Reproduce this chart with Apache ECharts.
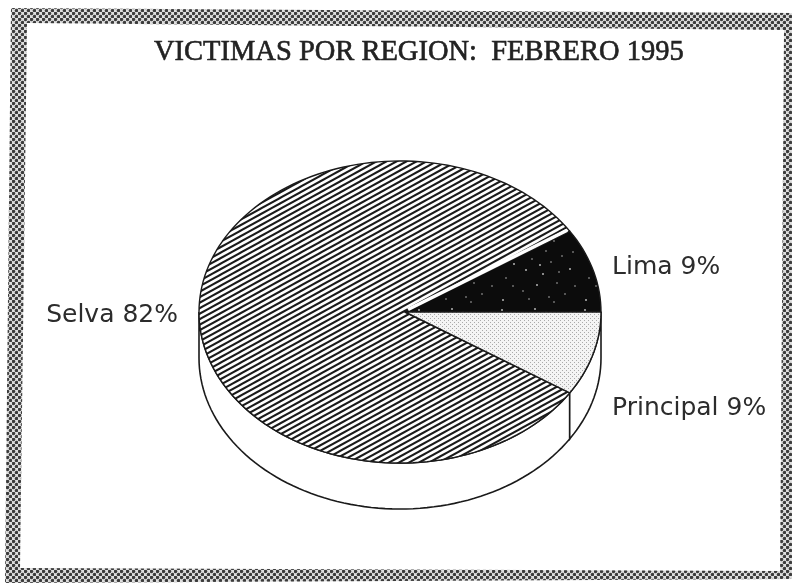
<!DOCTYPE html>
<html>
<head>
<meta charset="utf-8">
<style>
html, body { margin: 0; padding: 0; background: #fff; }
#chart { width: 792px; height: 583px; }
</style>
</head>
<body>
<div id="chart"></div>
<script src="https://cdn.jsdelivr.net/npm/echarts@6/dist/echarts.min.js"></script>
<script>
var titleText = 'VICTIMAS POR REGION:  FEBRERO 1995'
var categories = ['Lima', 'Selva', 'Principal']
var shares = [9, 82, 9]

var depth = 46 // wall height in px
var apexX = 0.025 // the slices meet a bit right of the ellipse centre

function tile(w, h, draw) {
    var c = document.createElement('canvas')
    c.width = w
    c.height = h
    draw(c.getContext('2d'))
    return { image: c, repeat: 'repeat' }
}

// frame: soft dithered checker, scan blurred it
var checker = tile(6, 6, function(ctx) {
    ctx.fillStyle = '#dedede'
    ctx.fillRect(0, 0, 6, 6)
    ctx.fillStyle = '#3c3c3c'
    var dots = [[1.5, 1.5], [4.5, 4.5]]
    dots.forEach(function(d) {
        ctx.beginPath()
        ctx.arc(d[0], d[1], 1.75, 0, Math.PI * 2)
        ctx.fill()
    })
})

// Selva: diagonal hatching
var hatch = tile(20, 11, function(ctx) {
    ctx.fillStyle = '#fff'
    ctx.fillRect(0, 0, 20, 11)
    ctx.strokeStyle = '#1a1a1a'
    ctx.lineWidth = 2
    for (var k = -3; k < 5; k++) {
        // run past the tile edges so no seams show
        ctx.beginPath()
        ctx.moveTo(-20, 5.5 * k + 16.5)
        ctx.lineTo(40, 5.5 * k - 16.5)
        ctx.stroke()
    }
})

// Lima: black with a few irregular specks
var speckled = tile(83, 61, function(ctx) {
    ctx.fillStyle = '#0c0c0c'
    ctx.fillRect(0, 0, 83, 61)
    var specks = [[3, 4], [11, 12], [19, 8], [27, 25], [33, 14], [7, 33], [15, 19], [24, 46], [30, 54], [4, 55], [47, 6], [52, 17], [44, 29], [58, 38], [63, 11], [71, 24], [66, 49], [76, 41], [38, 40], [50, 52], [14, 41], [36, 3], [60, 27], [74, 7], [41, 20], [55, 57]]
    specks.forEach(function(s, i) {
        ctx.fillStyle = i % 3 === 0 ? '#8a8a8a' : '#565656'
        ctx.fillRect(s[0], s[1], 2, 2)
    })
})

// Principal: light stipple
var stipple = tile(4, 4, function(ctx) {
    ctx.fillStyle = '#f4f4f4'
    ctx.fillRect(0, 0, 4, 4)
    ctx.fillStyle = '#aaa'
    ctx.fillRect(0, 0, 1, 1)
    ctx.fillRect(2, 2, 1, 1)
})

var fills = [speckled, hatch, stipple]

var total = shares.reduce(function(a, b) { return a + b }, 0)

function sliceRange(idx) {
    var before = 0
    for (var i = 0; i < idx; i++) before += shares[i]
    return [before / total * 360, (before + shares[idx]) / total * 360]
}

function rimPoints(api, a0, a1) {
    var pts = []
    var n = Math.max(2, Math.ceil((a1 - a0) / 2))
    for (var i = 0; i <= n; i++) {
        var a = (a0 + (a1 - a0) * i / n) * Math.PI / 180
        pts.push(api.coord([Math.cos(a), Math.sin(a)]))
    }
    return pts
}

function renderWall(params, api) {
    var range = sliceRange(params.dataIndex)
    var a0 = Math.max(range[0], 180)
    var a1 = Math.min(range[1], 360)
    if (a1 <= a0) return { type: 'group', children: [] }
    var top = rimPoints(api, a0, a1)
    var bottom = top.map(function(p) { return [p[0], p[1] + depth] }).reverse()
    return {
        type: 'polygon',
        shape: { points: top.concat(bottom) },
        style: { fill: '#fff', stroke: '#1a1a1a', lineWidth: 1.6 }
    }
}

function renderSlice(params, api) {
    var idx = params.dataIndex
    var range = sliceRange(idx)
    var apex = api.coord([apexX, 0])
    var children = [{
        type: 'polygon',
        shape: { points: [apex].concat(rimPoints(api, range[0], range[1])) },
        style: { fill: fills[idx], stroke: '#1a1a1a', lineWidth: 1.4, lineJoin: 'round' }
    }]
    if (categories[idx] === 'Selva') {
        // white gap along the Lima edge
        var a = range[0] * Math.PI / 180
        var rim = api.coord([Math.cos(a) * 0.985, Math.sin(a) * 0.985])
        children.push({
            type: 'line',
            shape: { x1: apex[0] + 3, y1: apex[1] - 2.5, x2: rim[0], y2: rim[1] - 2 },
            style: { stroke: '#fff', lineWidth: 3.5 }
        })
    }
    return { type: 'group', children: children }
}

function renderLabel(params, api) {
    var idx = params.dataIndex
    var range = sliceRange(idx)
    var mid = (range[0] + range[1]) / 2 * Math.PI / 180
    var p = api.coord([Math.cos(mid), Math.sin(mid)])
    var onLeft = Math.cos(mid) < 0
    var shiftY = categories[idx] === 'Selva' ? 3 : (categories[idx] === 'Principal' ? 54 : -2)
    return {
        type: 'text',
        style: {
            x: p[0] + (onLeft ? -21 : 19),
            y: p[1] + shiftY,
            text: categories[idx] + ' ' + shares[idx] + '%',
            textAlign: onLeft ? 'right' : 'left',
            textVerticalAlign: 'middle',
            font: '25px "DejaVu Sans"',
            fill: '#2c2c2c'
        }
    }
}

var seriesData = categories.map(function(name, i) {
    return { name: name, value: [i, shares[i]] }
})

var myChart = echarts.init(document.getElementById('chart'), null, { renderer: 'canvas' })
myChart.setOption({
    animation: false,
    backgroundColor: '#fff',
    title: {
        text: titleText,
        left: 149,
        top: 33,
        textStyle: {
            fontFamily: 'Liberation Serif',
            fontSize: 28.5,
            fontWeight: 'normal',
            color: '#222',
            textBorderColor: '#222',
            textBorderWidth: 0.6
        }
    },
    // tilted a little, the page was scanned crooked
    graphic: [
        {
            type: 'polygon',
            z: -10,
            shape: { points: [[11, 8], [792, 13], [792, 579], [5, 583]] },
            style: { fill: checker }
        },
        {
            type: 'polygon',
            z: -9,
            shape: { points: [[27, 23], [784, 30], [780, 571], [20, 568]] },
            style: { fill: '#fff' }
        }
    ],
    grid: { left: 199, right: 191, top: 161, bottom: 120 },
    xAxis: { type: 'value', min: -1, max: 1, show: false },
    yAxis: { type: 'value', min: -1, max: 1, show: false },
    series: [
        { type: 'custom', coordinateSystem: 'cartesian2d', clip: false, silent: true, renderItem: renderWall, data: seriesData, z: 2 },
        { type: 'custom', coordinateSystem: 'cartesian2d', clip: false, silent: true, renderItem: renderSlice, data: seriesData, z: 3 },
        { type: 'custom', coordinateSystem: 'cartesian2d', clip: false, silent: true, renderItem: renderLabel, data: seriesData, z: 4 }
    ]
})
</script>
</body>
</html>
